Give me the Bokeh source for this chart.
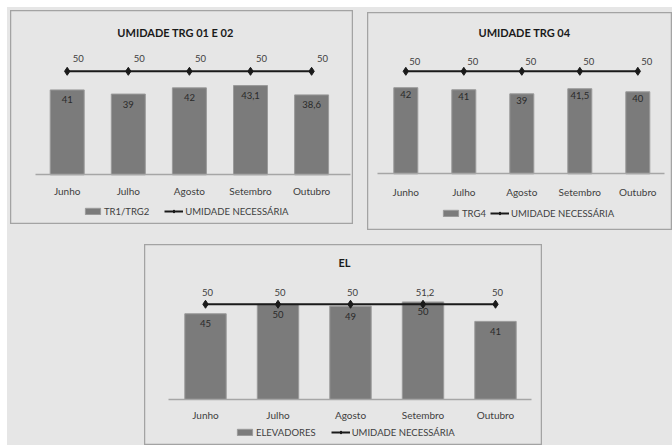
from bokeh.plotting import figure
from bokeh.models import (Range1d, LinearAxis, FixedTicker, Legend, LegendItem,
                          Label, ColumnDataSource, Spacer)
from bokeh.layouts import row, column
from bokeh.core.properties import value
from bokeh.embed import file_html
from bokeh.resources import INLINE

# ---------------- data ----------------
months = ["Junho", "Julho", "Agosto", "Setembro", "Outubro"]

trg12 = [41, 39, 42, 43.1, 38.6]
trg4 = [42, 41, 39, 41.5, 40]
el = [45, 50, 49, 51.2, 41]
el_bar_labels = ["45", "50", "49", "50", "41"]

umidade_necessaria = [50, 50, 50, 50, 50]
el_line_labels = ["50", "50", "50", "51,2", "50"]


def fmt(v):
    return f"{v:g}".replace(".", ",")


BG = "#e6e6e6"
FONT = "Lato"


def make_panel(title, series_name, bars, bar_labels, line, line_labels,
               W, H, first_cx, step, base_y, ppu, bar_px, axis_px, title_xy,
               line_off, bar_off, standoff, legend_loc, legend_spacing):
    idx = list(range(len(months)))
    x_start = -first_cx / step
    x_end = x_start + W / step
    y_end = base_y / ppu
    y_start = -(H - base_y) / ppu
    p = figure(width=W, height=H, x_range=Range1d(x_start, x_end),
               y_range=Range1d(y_start, y_end), x_axis_type=None, y_axis_type=None,
               toolbar_location=None, output_backend="svg", min_border=0,
               background_fill_color=BG, border_fill_color=BG,
               outline_line_color="#a3a3a3", outline_line_width=1.5)
    p.grid.visible = False

    ax = LinearAxis(ticker=FixedTicker(ticks=idx),
                    major_label_overrides={float(i): m for i, m in enumerate(months)},
                    fixed_location=0,
                    bounds=((axis_px[0] - first_cx) / step, (axis_px[1] - first_cx) / step),
                    axis_line_color="#a6a6a6", axis_line_width=1.5,
                    major_tick_line_color=None, minor_tick_line_color=None,
                    major_tick_out=0, major_tick_in=0,
                    major_label_standoff=standoff,
                    major_label_text_font=FONT, major_label_text_font_size="10px",
                    major_label_text_color="#404040")
    p.add_layout(ax, "below")

    src = ColumnDataSource(dict(x=idx, top=bars, lbl=bar_labels,
                                line=line, llbl=line_labels))
    vb = p.vbar(x="x", top="top", width=bar_px / step, source=src,
                fill_color="#7b7b7b", line_color="#9a9a9a", line_width=1)
    ln = p.line(x="x", y="line", source=src, line_color="#1a1a1a", line_width=2)
    mk = p.scatter(x="x", y="line", source=src, marker="diamond", size=8,
                   fill_color="#1a1a1a", line_color="#1a1a1a")
    p.text(x="x", y="top", text="lbl", source=src, y_offset=bar_off,
           text_align="center", text_baseline="middle", text_font=value(FONT),
           text_font_size="9.5px", text_color="#2a2a2a")
    p.text(x="x", y="line", text="llbl", source=src, x_offset=line_off[0],
           y_offset=line_off[1], text_align="center", text_baseline="middle",
           text_font=value(FONT), text_font_size="9.5px", text_color="#404040")

    p.add_layout(Label(x=title_xy[0], y=H - title_xy[1], x_units="screen",
                       y_units="screen", text=title, text_align="center",
                       text_baseline="middle", text_font=FONT,
                       text_font_style="bold", text_font_size="11px",
                       text_color="#1a1a1a"))

    legend = Legend(items=[LegendItem(label=series_name, renderers=[vb]),
                           LegendItem(label="UMIDADE NECESSÁRIA", renderers=[ln, mk])],
                    location=legend_loc, orientation="horizontal",
                    border_line_color=None, background_fill_alpha=0,
                    padding=0, margin=0, spacing=legend_spacing,
                    glyph_width=19, glyph_height=8, label_height=12,
                    label_standoff=2, label_text_font=FONT,
                    label_text_font_size="9.5px", label_text_color="#404040")
    p.add_layout(legend)
    return p


p1 = make_panel("UMIDADE TRG 01 E 02", "TR1/TRG2", trg12, [fmt(v) for v in trg12],
                umidade_necessaria, [fmt(v) for v in umidade_necessaria],
                W=343, H=214, first_cx=56.7, step=61.1, base_y=164.3, ppu=2.07,
                bar_px=34, axis_px=(25, 340), title_xy=(165, 22), line_off=(11, -13),
                bar_off=10, standoff=10, legend_loc=(73, 7), legend_spacing=15)

p2 = make_panel("UMIDADE TRG 04", "TRG4", trg4, [fmt(v) for v in trg4],
                umidade_necessaria, [fmt(v) for v in umidade_necessaria],
                W=305, H=218, first_cx=38.3, step=58, base_y=161.3, ppu=2.05,
                bar_px=24, axis_px=(9.7, 297), title_xy=(157, 20), line_off=(9, -10),
                bar_off=7, standoff=12, legend_loc=(74, 11), legend_spacing=4)

p3 = make_panel("EL", "ELEVADORES", el, el_bar_labels,
                umidade_necessaria, el_line_labels,
                W=398, H=201, first_cx=61, step=72.5, base_y=155, ppu=1.905,
                bar_px=41.4, axis_px=(24, 387), title_xy=(200, 18), line_off=(2, -12),
                bar_off=10, standoff=9, legend_loc=(91, 7), legend_spacing=15)

layout = column(
    Spacer(height=3),
    row(Spacer(width=3), p1, Spacer(width=14), column(Spacer(height=2), p2)),
    Spacer(height=14),
    row(Spacer(width=137), p3),
    margin=(7, 0, 0, 7), styles={"background-color": BG},
)

open("out.html", "w").write(file_html(layout, INLINE))
